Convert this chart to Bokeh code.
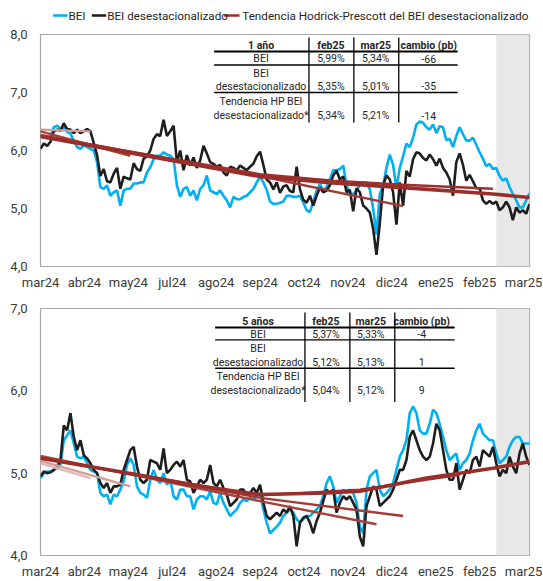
from bokeh.plotting import figure
from bokeh.models import Range1d, FixedTicker, BoxAnnotation
from bokeh.layouts import column
from bokeh.core.properties import value
from bokeh.embed import file_html
from bokeh.resources import INLINE

# ---------------- data ----------------
X_LABELS = ["mar24", "abr24", "may24", "jul24", "ago24", "sep24", "oct24",
            "nov24", "dic24", "ene25", "feb25", "mar25"]
OBS_PER_LABEL = 13.2          # observations between two category labels
SHADE_START = 137             # observation where the shaded (latest) period begins

SERIES_NAMES = ["BEI", "BEI desestacionalizado",
                "Tendencia Hodrick-Prescott del BEI desestacionalizado"]

# 1 año
TOP_BEI = [6.26, 6.24, 6.21, 6.25, 6.40, 6.43, 6.37, 6.40, 6.32, 6.29,
           6.17, 6.06, 6.03, 6.09, 6.06, 6.03, 6.00, 5.80, 5.37, 5.34,
           5.40, 5.22, 5.28, 5.31, 5.05, 5.31, 5.34, 5.34, 5.43, 5.43,
           5.45, 5.45, 5.62, 5.71, 5.85, 5.91, 5.91, 5.97, 5.93, 5.91,
           5.85, 5.40, 5.20, 5.34, 5.37, 5.22, 5.31, 5.14, 5.34, 5.40,
           5.57, 5.31, 5.28, 5.25, 5.31, 5.22, 5.14, 5.02, 5.20, 5.16,
           5.16, 5.20, 5.22, 5.28, 5.34, 5.45, 5.55, 5.45, 5.32, 5.12,
           5.08, 5.08, 5.10, 5.12, 5.22, 5.22, 5.20, 5.20, 5.22, 5.10,
           4.97, 4.94, 5.12, 5.31, 5.42, 5.30, 5.37, 5.50, 5.66, 5.66,
           5.68, 5.74, 5.40, 5.25, 5.25, 5.31, 5.40, 5.45, 5.45, 5.33,
           5.00, 4.55, 5.25, 5.40, 5.70, 5.93, 5.75, 5.35, 5.70, 5.90,
           6.12, 6.06, 6.22, 6.45, 6.50, 6.48, 6.40, 6.36, 6.45, 6.30,
           6.42, 6.40, 6.18, 6.20, 6.06, 6.25, 6.40, 6.28, 6.17, 6.17,
           6.22, 6.10, 5.97, 5.86, 5.73, 5.77, 5.68, 5.70, 5.56, 5.48,
           5.52, 5.37, 5.25, 5.14, 5.02, 5.02, 5.14, 5.26]
TOP_BEI_SA = [6.03, 6.12, 6.08, 6.15, 6.33, 6.36, 6.34, 6.47, 6.37, 6.36,
              6.30, 6.36, 6.30, 6.33, 6.37, 6.33, 6.13, 5.92, 5.56, 5.68,
              5.47, 5.45, 5.60, 5.70, 5.34, 5.55, 5.52, 5.50, 5.78, 5.68,
              5.65, 5.86, 5.90, 6.00, 6.20, 6.28, 6.25, 6.53, 6.25, 6.33,
              6.43, 5.80, 6.00, 5.66, 5.92, 5.74, 5.88, 5.70, 5.83, 6.08,
              5.95, 5.80, 5.77, 5.72, 5.75, 5.62, 5.57, 5.72, 5.70, 5.66,
              5.74, 5.70, 5.66, 5.72, 5.77, 5.90, 5.98, 5.75, 5.50, 5.45,
              5.33, 5.45, 5.27, 5.38, 5.40, 5.30, 5.28, 5.72, 5.33, 5.15,
              5.10, 5.22, 5.05, 5.22, 5.36, 5.28, 5.31, 5.40, 5.57, 5.65,
              5.50, 5.55, 5.28, 5.32, 4.95, 5.35, 5.28, 5.05, 5.00, 4.93,
              4.65, 4.20, 4.75, 5.40, 5.57, 5.50, 5.28, 4.72, 5.45, 5.05,
              5.65, 5.55, 5.85, 5.97, 5.95, 5.87, 5.83, 5.93, 5.85, 5.74,
              5.86, 5.70, 5.62, 5.50, 5.22, 5.80, 5.95, 5.75, 5.48, 5.58,
              5.47, 5.35, 5.35, 5.14, 5.08, 5.13, 5.08, 5.12, 4.97, 5.02,
              5.12, 5.02, 4.80, 5.02, 4.93, 4.97, 4.91, 5.08]
# HP-trend vintages (oldest -> latest): observation index, value
TOP_TREND_X = [[0, 15], [0, 27], [0, 66, 109], [0, 66, 88, 109, 136],
               [0, 66, 88, 109, 136, 147]]
TOP_TREND_Y = [[6.36, 6.33], [6.33, 5.91], [6.27, 5.56, 5.04],
               [6.25, 5.59, 5.48, 5.41, 5.34],
               [6.24, 5.55, 5.44, 5.36, 5.25, 5.19]]

# 5 años
BOT_BEI = [4.94, 5.00, 5.02, 5.02, 5.04, 5.06, 5.10, 5.40, 5.46, 5.52,
           5.36, 5.20, 5.18, 5.20, 5.12, 5.04, 5.02, 5.00, 4.76, 4.72,
           4.74, 4.62, 4.74, 4.72, 4.80, 4.90, 5.10, 5.18, 5.10, 4.84,
           4.76, 4.74, 4.70, 4.92, 5.04, 4.92, 4.88, 5.00, 4.86, 4.92,
           4.72, 4.68, 4.80, 4.80, 4.72, 4.72, 4.56, 4.68, 4.72, 4.72,
           4.68, 4.78, 4.64, 4.62, 4.76, 4.64, 4.56, 4.48, 4.52, 4.56,
           4.64, 4.68, 4.66, 4.70, 4.68, 4.72, 4.76, 4.56, 4.40, 4.27,
           4.31, 4.35, 4.40, 4.48, 4.52, 4.56, 4.52, 4.44, 4.40, 4.44,
           4.48, 4.48, 4.52, 4.56, 4.60, 4.72, 4.88, 4.96, 4.84, 4.64,
           4.72, 4.80, 4.76, 4.80, 4.76, 4.64, 4.35, 4.27, 4.80, 4.96,
           5.00, 5.04, 4.80, 4.72, 4.76, 4.80, 4.88, 5.04, 5.20, 5.28,
           5.40, 5.73, 5.81, 5.73, 5.52, 5.48, 5.48, 5.60, 5.77, 5.73,
           5.60, 5.44, 5.28, 5.16, 5.20, 5.24, 5.04, 5.12, 5.16, 5.24,
           5.40, 5.52, 5.60, 5.48, 5.44, 5.40, 5.40, 5.24, 5.12, 5.16,
           5.20, 5.32, 5.40, 5.44, 5.44, 5.36, 5.36, 5.36]
BOT_BEI_SA = [4.96, 5.02, 5.00, 5.01, 5.04, 5.08, 5.16, 5.58, 5.52, 5.73,
              5.44, 5.28, 5.40, 5.22, 5.18, 5.12, 5.04, 5.00, 4.88, 4.82,
              4.88, 4.76, 4.84, 4.84, 4.86, 5.04, 5.16, 5.28, 5.32, 5.08,
              4.92, 4.88, 4.92, 5.16, 5.14, 5.12, 5.04, 5.30, 5.00, 5.04,
              5.10, 5.14, 5.08, 5.16, 4.92, 4.90, 4.76, 4.84, 4.92, 4.88,
              4.92, 5.10, 4.88, 4.84, 4.92, 4.82, 4.74, 4.60, 4.64, 4.68,
              4.80, 4.80, 4.74, 4.76, 4.82, 4.76, 4.86, 4.64, 4.48, 4.44,
              4.48, 4.52, 4.48, 4.56, 4.52, 4.60, 4.48, 4.11, 4.40, 4.46,
              4.48, 4.40, 4.27, 4.42, 4.52, 4.66, 4.80, 4.76, 4.80, 4.52,
              4.64, 4.72, 4.68, 4.72, 4.64, 4.56, 4.23, 4.11, 4.60, 4.72,
              4.84, 4.80, 4.60, 4.64, 4.68, 4.72, 4.80, 4.92, 5.04, 5.04,
              5.16, 5.44, 5.52, 5.40, 5.28, 5.20, 5.16, 5.20, 5.36, 5.60,
              5.52, 5.28, 5.04, 4.92, 4.92, 5.12, 4.80, 4.92, 5.04, 5.00,
              5.16, 5.20, 5.08, 5.28, 5.24, 5.20, 5.32, 5.12, 4.96, 5.04,
              5.00, 5.20, 5.08, 5.00, 5.24, 5.36, 5.20, 5.10]
BOT_TREND_X = [[0, 15], [0, 27], [0, 66, 101], [0, 66, 109], [0, 66, 96, 126],
               [0, 28, 48, 66, 86, 96, 106, 116, 126, 136, 147]]
BOT_TREND_Y = [[5.12, 4.94], [5.15, 4.84], [5.21, 4.66, 4.38],
               [5.19, 4.70, 4.48], [5.18, 4.73, 4.80, 4.98],
               [5.18, 4.99, 4.84, 4.74, 4.76, 4.78, 4.86, 4.94, 5.00, 5.06, 5.14]]

TABLE_COLS = ["feb25", "mar25", "cambio (pb)"]
ROW_LABELS = [["BEI"], ["BEI", "desestacionalizado"],
              ["Tendencia HP BEI", "desestacionalizado*"]]
TOP_TABLE_TITLE = "1 año"
TOP_TABLE_VALUES = [["5,99%", "5,34%", "-66"], ["5,35%", "5,01%", "-35"],
                    ["5,34%", "5,21%", "-14"]]
BOT_TABLE_TITLE = "5 años"
BOT_TABLE_VALUES = [["5,37%", "5,33%", "-4"], ["5,12%", "5,13%", "1"],
                    ["5,04%", "5,12%", "9"]]

TOP_Y_TICKS = [4, 5, 6, 7, 8]
BOT_Y_TICKS = [4, 5, 6, 7]

# ---------------- styling ----------------
FONT = "Roboto"
BLUE = "#00B0F0"
BLACK = "#1E1E1E"
TREND_COLORS = ["#E3B7B5", "#D59C99", "#A9423C", "#A23A35", "#9B302C", "#9A2E2A"]
N = len(TOP_BEI)
XS = list(range(N))
W = 543
FRAME_W = 490


def make_fig(height, y0, y1, yticks, top, bottom, left):
    p = figure(width=W, height=height, output_backend="svg", title=None,
               toolbar_location=None, x_range=Range1d(0, N - 1),
               y_range=Range1d(y0, y1), min_border_left=left,
               min_border_right=W - left - FRAME_W,
               min_border_top=top, min_border_bottom=bottom)
    p.xgrid.visible = False
    p.ygrid.visible = False
    p.outline_line_color = "#A6A6A6"
    p.outline_line_width = 1.2
    p.background_fill_color = "white"
    p.border_fill_color = "white"
    for ax in (p.xaxis, p.yaxis):
        ax.axis_line_color = None
        ax.major_tick_line_color = None
        ax.minor_tick_line_color = None
        ax.major_tick_out = 0
        ax.major_tick_in = 0
        ax.minor_tick_out = 0
        ax.minor_tick_in = 0
        ax.major_label_text_font = FONT
        ax.major_label_text_font_size = "13px"
        ax.major_label_text_color = "#3A3A3A"
    ticks = [k * OBS_PER_LABEL for k in range(len(X_LABELS))]
    p.xaxis.ticker = FixedTicker(ticks=ticks)
    p.xaxis.major_label_overrides = {t: lab for t, lab in zip(ticks, X_LABELS)}
    p.xaxis.major_label_standoff = 8
    p.yaxis.ticker = FixedTicker(ticks=yticks)
    p.yaxis.major_label_overrides = {t: f"{t:.1f}".replace(".", ",") for t in yticks}
    p.yaxis.major_label_standoff = 13
    p.add_layout(BoxAnnotation(left=SHADE_START, right=N - 1, fill_color="#E8E8E8",
                               fill_alpha=1, line_color=None, level="underlay"))
    return p


def draw_series(p, bei, bei_sa, tx, ty):
    p.line(XS, bei, line_color=BLUE, line_width=2.6)
    p.line(XS, bei_sa, line_color=BLACK, line_width=2.6)
    colors = TREND_COLORS[-len(tx):]
    for i, (xx, yy) in enumerate(zip(tx, ty)):
        w = 3.6 if i == len(tx) - 1 else 2.4
        p.line(xx, yy, line_color=colors[i], line_width=w)


def draw_table(p, fx, fy, title, values, col_x, y_head, y_rows, h_lines, x_span,
               v_lines, v_span):
    kw = dict(text_font=value(FONT), text_font_size="10.5px", text_align="center",
              text_baseline="middle", text_color="#262626")
    hx = [fx(c) for c in col_x]
    p.text(x=hx, y=[fy(y_head)] * 4, text=[title] + TABLE_COLS,
           text_font_style="bold", **kw)
    tx, tyy, tt = [], [], []
    for lab_lines, vals, ys in zip(ROW_LABELS, values, y_rows):
        for line, yy in zip(lab_lines, ys[-len(lab_lines):]):
            tx.append(fx(col_x[0])); tyy.append(fy(yy)); tt.append(line)
        for c, v in zip(col_x[1:], vals):
            tx.append(fx(c)); tyy.append(fy(ys[-1])); tt.append(v)
    p.text(x=tx, y=tyy, text=tt, **kw)
    p.segment(x0=[fx(x_span[0])] * len(h_lines), x1=[fx(x_span[1])] * len(h_lines),
              y0=[fy(h) for h, _ in h_lines], y1=[fy(h) for h, _ in h_lines],
              line_color="black", line_width=[w for _, w in h_lines])
    p.segment(x0=[fx(v) for v in v_lines], x1=[fx(v) for v in v_lines],
              y0=[fy(v_span[0])] * len(v_lines), y1=[fy(v_span[1])] * len(v_lines),
              line_color="black", line_width=1.3)


# vertical layout (px from the top of the content)
LEG_H = 28
BOT_FIG_Y = 292
TOTAL_H = 581

# ---------------- legend strip (pixel coordinates) ----------------
pl = figure(width=W, height=LEG_H, output_backend="svg", title=None,
            toolbar_location=None, x_axis_type=None, y_axis_type=None,
            x_range=Range1d(0, W), y_range=Range1d(LEG_H, 0),
            min_border=0, min_border_left=0, min_border_right=0,
            min_border_top=0, min_border_bottom=0)
pl.outline_line_color = None
pl.xgrid.visible = False
pl.ygrid.visible = False
LEG_Y = 15
LEG_GLYPH = [(14, 30), (57, 73), (204, 221)]
LEG_TEXT_X = [31, 74, 224]
leg_colors = [BLUE, BLACK, TREND_COLORS[-1]]
pl.segment(x0=[g[0] for g in LEG_GLYPH], x1=[g[1] for g in LEG_GLYPH],
           y0=[LEG_Y] * 3, y1=[LEG_Y] * 3, line_color=leg_colors, line_width=2.6)
pl.text(x=LEG_TEXT_X, y=[LEG_Y] * 3, text=SERIES_NAMES, text_font=value(FONT),
        text_font_size="11.7px", text_align="left", text_baseline="middle",
        text_color="#262626")

# ---------------- top panel (1 año) ----------------
TOP_LEFT_PX, TOP_FRAME_TOP, TOP_FRAME_BOT = 39, 34, 266
p1 = make_fig(BOT_FIG_Y - LEG_H, 4, 8, TOP_Y_TICKS, top=TOP_FRAME_TOP - LEG_H,
              bottom=BOT_FIG_Y - TOP_FRAME_BOT, left=TOP_LEFT_PX)
draw_series(p1, TOP_BEI, TOP_BEI_SA, TOP_TREND_X, TOP_TREND_Y)

fx1 = lambda px: (px - TOP_LEFT_PX) * (N - 1) / FRAME_W
fy1 = lambda py: 4 + (TOP_FRAME_BOT - py) * 4 / (TOP_FRAME_BOT - TOP_FRAME_TOP)
draw_table(p1, fx1, fy1, TOP_TABLE_TITLE, TOP_TABLE_VALUES,
           col_x=[260, 330, 375, 428], y_head=45,
           y_rows=[[58], [73, 85.5], [101, 115]],
           h_lines=[(51, 2.0), (64.5, 1.3), (92, 1.3)], x_span=(213, 457),
           v_lines=[308, 353, 398], v_span=(37, 122))

# ---------------- bottom panel (5 años) ----------------
BOT_LEFT_PX, BOT_FRAME_TOP, BOT_FRAME_BOT = 40, 308, 556
p2 = make_fig(TOTAL_H - BOT_FIG_Y, 4, 7, BOT_Y_TICKS, top=BOT_FRAME_TOP - BOT_FIG_Y,
              bottom=TOTAL_H - BOT_FRAME_BOT, left=BOT_LEFT_PX)
draw_series(p2, BOT_BEI, BOT_BEI_SA, BOT_TREND_X, BOT_TREND_Y)

fx2 = lambda px: (px - BOT_LEFT_PX) * (N - 1) / FRAME_W
fy2 = lambda py: 4 + (BOT_FRAME_BOT - py) * 3 / (BOT_FRAME_BOT - BOT_FRAME_TOP)
draw_table(p2, fx2, fy2, BOT_TABLE_TITLE, BOT_TABLE_VALUES,
           col_x=[258, 326, 371, 422], y_head=321,
           y_rows=[[334], [348, 362], [376, 390]],
           h_lines=[(327, 2.0), (339.5, 1.3), (368, 1.3)], x_span=(215, 455),
           v_lines=[305, 350, 395], v_span=(312, 402))

layout = column(pl, p1, p2, spacing=0)
open("out.html", "w").write(file_html(layout, INLINE))
